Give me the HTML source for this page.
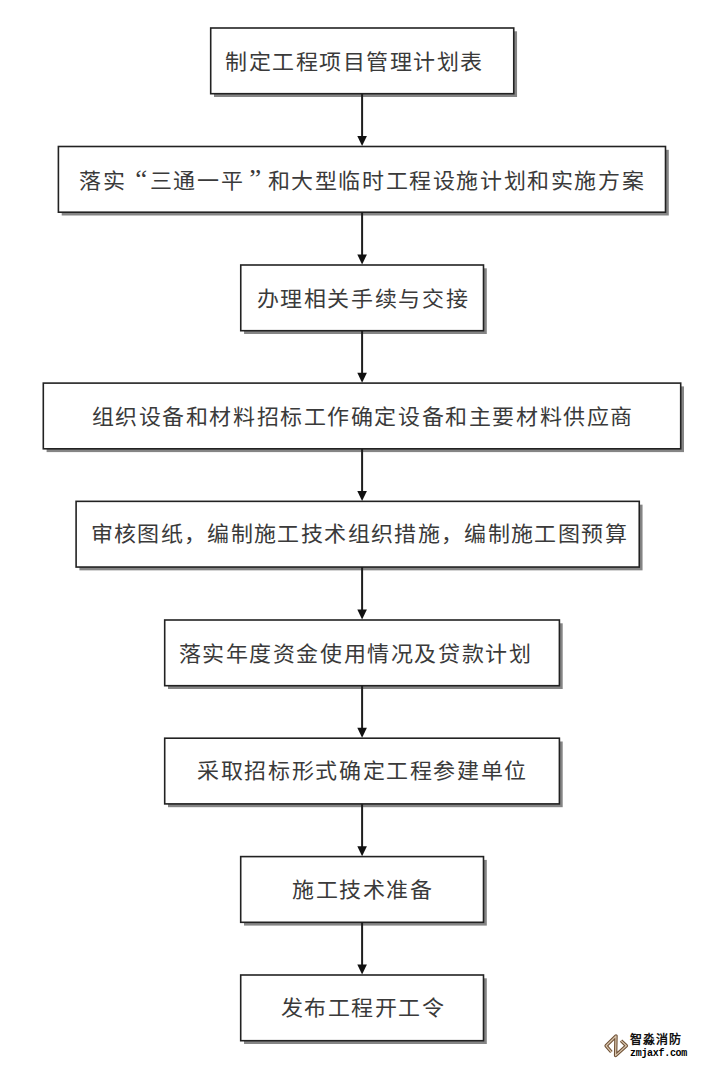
<!DOCTYPE html>
<html lang="zh-CN"><head><meta charset="utf-8">
<style>
html,body{margin:0;padding:0;background:#fff;}
body{width:720px;height:1067px;position:relative;overflow:hidden;font-family:"Liberation Sans",sans-serif;}
svg{position:absolute;left:0;top:0;}
.t{position:absolute;white-space:nowrap;font-size:22px;line-height:22px;color:#3a3a3a;transform:scaleY(0.955);transform-origin:0 0;}
.q{display:inline-block;font-family:"Liberation Serif",serif;font-size:27px;letter-spacing:0;vertical-align:top;line-height:22px;position:relative;top:-3px;}
</style></head><body>
<svg width="720" height="1067" viewBox="0 0 720 1067">
<rect x="214.00" y="31.30" width="303.05" height="65.70" fill="#858585"/>
<rect x="210.70" y="28.00" width="303.05" height="65.70" fill="#fff" stroke="#222" stroke-width="1.6"/>
<rect x="61.70" y="149.80" width="607.10" height="65.70" fill="#858585"/>
<rect x="58.40" y="146.50" width="607.10" height="65.70" fill="#fff" stroke="#222" stroke-width="1.6"/>
<rect x="244.05" y="268.30" width="242.75" height="65.70" fill="#858585"/>
<rect x="240.75" y="265.00" width="242.75" height="65.70" fill="#fff" stroke="#222" stroke-width="1.6"/>
<rect x="46.60" y="386.40" width="637.40" height="65.70" fill="#858585"/>
<rect x="43.30" y="383.10" width="637.40" height="65.70" fill="#fff" stroke="#222" stroke-width="1.6"/>
<rect x="79.40" y="504.65" width="563.15" height="65.70" fill="#858585"/>
<rect x="76.10" y="501.35" width="563.15" height="65.70" fill="#fff" stroke="#222" stroke-width="1.6"/>
<rect x="168.00" y="623.30" width="394.70" height="65.70" fill="#858585"/>
<rect x="164.70" y="620.00" width="394.70" height="65.70" fill="#fff" stroke="#222" stroke-width="1.6"/>
<rect x="168.00" y="741.50" width="394.70" height="65.70" fill="#858585"/>
<rect x="164.70" y="738.20" width="394.70" height="65.70" fill="#fff" stroke="#222" stroke-width="1.6"/>
<rect x="244.00" y="859.90" width="242.80" height="65.70" fill="#858585"/>
<rect x="240.70" y="856.60" width="242.80" height="65.70" fill="#fff" stroke="#222" stroke-width="1.6"/>
<rect x="244.00" y="978.30" width="242.80" height="65.70" fill="#858585"/>
<rect x="240.70" y="975.00" width="242.80" height="65.70" fill="#fff" stroke="#222" stroke-width="1.6"/>
<line x1="362.1" y1="93.70" x2="362.1" y2="138.50" stroke="#1e1e1e" stroke-width="2"/>
<path d="M357.30 136.10 L366.90 136.10 L362.10 146.10 Z" fill="#111"/>
<line x1="362.1" y1="212.20" x2="362.1" y2="257.00" stroke="#1e1e1e" stroke-width="2"/>
<path d="M357.30 254.60 L366.90 254.60 L362.10 264.60 Z" fill="#111"/>
<line x1="362.1" y1="330.70" x2="362.1" y2="375.10" stroke="#1e1e1e" stroke-width="2"/>
<path d="M357.30 372.70 L366.90 372.70 L362.10 382.70 Z" fill="#111"/>
<line x1="362.1" y1="448.80" x2="362.1" y2="493.35" stroke="#1e1e1e" stroke-width="2"/>
<path d="M357.30 490.95 L366.90 490.95 L362.10 500.95 Z" fill="#111"/>
<line x1="362.1" y1="567.05" x2="362.1" y2="612.00" stroke="#1e1e1e" stroke-width="2"/>
<path d="M357.30 609.60 L366.90 609.60 L362.10 619.60 Z" fill="#111"/>
<line x1="362.1" y1="685.70" x2="362.1" y2="730.20" stroke="#1e1e1e" stroke-width="2"/>
<path d="M357.30 727.80 L366.90 727.80 L362.10 737.80 Z" fill="#111"/>
<line x1="362.1" y1="803.90" x2="362.1" y2="848.60" stroke="#1e1e1e" stroke-width="2"/>
<path d="M357.30 846.20 L366.90 846.20 L362.10 856.20 Z" fill="#111"/>
<line x1="362.1" y1="922.30" x2="362.1" y2="967.00" stroke="#1e1e1e" stroke-width="2"/>
<path d="M357.30 964.60 L366.90 964.60 L362.10 974.60 Z" fill="#111"/>
</svg>
<div class="t" style="left:225.00px;top:51.50px;letter-spacing:1.520px;font-size:22px">制定工程项目管理计划表</div>
<div class="t" style="left:79.00px;top:170.50px;letter-spacing:1.591px;font-size:22px">落实<span class="q" style="width:23.59px;text-align:right;padding-right:2.50px;box-sizing:border-box">“</span>三通一平<span class="q" style="width:23.59px;text-align:left;padding-left:5.00px;box-sizing:border-box">”</span>和大型临时工程设施计划和实施方案</div>
<div class="t" style="left:256.50px;top:288.50px;letter-spacing:1.650px;font-size:22px">办理相关手续与交接</div>
<div class="t" style="left:91.50px;top:406.50px;letter-spacing:1.582px;font-size:22px">组织设备和材料招标工作确定设备和主要材料供应商</div>
<div class="t" style="left:90.50px;top:524.00px;letter-spacing:1.364px;font-size:22px">审核图纸，编制施工技术组织措施，编制施工图预算</div>
<div class="t" style="left:178.50px;top:644.00px;letter-spacing:1.586px;font-size:22px">落实年度资金使用情况及贷款计划</div>
<div class="t" style="left:197.00px;top:761.20px;letter-spacing:1.646px;font-size:22px">采取招标形式确定工程参建单位</div>
<div class="t" style="left:292.00px;top:879.70px;letter-spacing:1.600px;font-size:22px">施工技术准备</div>
<div class="t" style="left:280.50px;top:998.20px;letter-spacing:1.533px;font-size:22px">发布工程开工令</div>
<svg width="720" height="1067" viewBox="0 0 720 1067" style="position:absolute;left:0;top:0">
<path d="M611.4 1052.0 L606.1 1045.8 L616.0 1036.0 L615.6 1055.6 L626.4 1045.8 L621.0 1040.6" fill="none" stroke="#6e5035" stroke-width="3.4" stroke-linejoin="round" stroke-linecap="butt"/>
<path d="M611.4 1052.0 L606.1 1045.8 L616.0 1036.0 L615.6 1055.6 L626.4 1045.8 L621.0 1040.6" fill="none" stroke="#d9c6ae" stroke-width="1.2" stroke-linejoin="round" stroke-linecap="butt"/>
</svg>
<div style="position:absolute;left:629.5px;top:1032.5px;font-size:12px;line-height:15px;font-weight:bold;color:#111;letter-spacing:1.3px;white-space:nowrap">智淼消防</div>
<div style="position:absolute;left:630px;top:1047.5px;font-family:'Liberation Mono',monospace;font-size:10px;line-height:12px;letter-spacing:-0.3px;font-weight:bold;color:#000;white-space:nowrap">zmjaxf.com</div>
</body></html>
